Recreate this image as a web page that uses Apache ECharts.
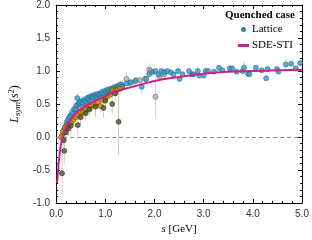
<!DOCTYPE html>
<html><head><meta charset="utf-8">
<script src="https://cdn.jsdelivr.net/npm/echarts@6/dist/echarts.min.js"></script>
<style>html,body{margin:0;padding:0;background:#fff}#c{width:312px;height:240px}</style>
</head><body><div id="c"></div>
<script>
// SDE-STI curve
const curveS = [0.02,0.04,0.06,0.08,0.10,0.12,0.15,0.2,0.25,0.3,0.4,0.5,0.6,0.8,1.0,1.2,1.4,1.7,2.0,2.5,3.0,3.5,4.0,4.5,5.0];
const curveV = [-0.70,-0.50,-0.33,-0.21,-0.11,-0.03,0.05,0.14,0.21,0.27,0.36,0.42,0.47,0.55,0.62,0.68,0.73,0.79,0.85,0.91,0.96,0.99,1.00,1.01,1.02];

// Lattice (blue)
const blueS = [0.15,0.18,0.21,0.24,0.27,0.30,0.33,0.36,0.39,0.42,0.43,0.45,0.48,0.51,0.54,0.57,0.60,0.63,0.66,0.69,0.72,0.75,0.78,0.81,0.84,0.87,0.90,0.93,0.96,0.99,1.02,1.05,1.08,1.11,1.14,1.17,1.20,1.23,1.26,1.29,1.32,1.34,1.43,1.52,1.62,1.74,1.83,1.89,1.96,2.02,2.08,2.14,2.20,2.26,2.33,2.39,2.48,2.51,2.57,2.70,2.76,2.79,2.88,2.91,3.00,3.04,3.09,3.21,3.31,3.38,3.53,3.58,3.67,3.79,3.82,3.90,3.93,4.06,4.18,4.27,4.30,4.49,4.52,4.67,4.78,4.87,4.96];
const blueV = [0.10,0.15,0.22,0.26,0.30,0.33,0.36,0.42,0.43,0.48,0.59,0.50,0.52,0.54,0.52,0.56,0.54,0.59,0.57,0.61,0.62,0.60,0.64,0.62,0.65,0.64,0.66,0.68,0.66,0.70,0.68,0.72,0.70,0.73,0.72,0.75,0.74,0.77,0.76,0.78,0.80,0.76,0.81,0.83,0.86,0.76,0.88,0.95,0.98,1.00,0.95,1.00,0.98,1.00,0.98,0.95,1.00,0.88,0.95,1.00,0.95,0.95,1.00,0.93,0.93,1.00,1.00,0.99,1.05,1.01,1.04,1.04,0.99,1.00,1.05,0.96,0.95,1.05,1.01,0.89,1.03,1.03,0.99,1.10,1.11,1.04,1.12];
const blueE = [0.08,0.08,0.1,0.1,0.12,0.1,0.1,0.15,0.1,0.12,0.08,0.1,0.08,0.08,0.1,0.06,0.08,0.06,0.06,0.05,0.05,0.06,0.05,0.05,0.05,0.05,0.05,0.05,0.04,0.05,0.04,0.05,0.04,0.04,0.04,0.04,0.04,0.04,0.04,0.04,0.04,0.05,0.04,0.04,0.04,0.1,0.04,0.04,0.03,0.03,0.03,0.03,0.03,0.03,0.03,0.03,0.03,0.04,0.03,0.03,0.03,0.03,0.08,0.03,0.03,0.03,0.03,0.03,0.04,0.03,0.03,0.03,0.03,0.03,0.1,0.03,0.03,0.04,0.03,0.04,0.03,0.03,0.03,0.08,0.03,0.03,0.05];

// gray
const grayS = [0.12,0.15,0.20,0.25,0.30,0.35,0.40,0.45,0.50,0.55,0.60,0.65,0.70,0.75,0.80,0.85,0.90,0.95,1.00,1.05,1.10,1.15,1.20,1.25,1.30,1.35,1.43,1.50,1.60,1.70,1.80,1.89,1.93,2.02,2.10,2.20];
const grayV = [0.02,0.06,0.12,0.20,0.26,0.30,0.35,0.40,0.43,0.45,0.50,0.52,0.55,0.57,0.58,0.60,0.62,0.63,0.65,0.67,0.70,0.71,0.72,0.75,0.76,0.78,0.88,0.82,0.84,0.86,0.88,1.02,1.00,0.61,0.92,0.95];
const grayE = [0.08,0.1,0.1,0.12,0.15,0.12,0.1,0.1,0.15,0.1,0.1,0.12,0.1,0.1,0.1,0.1,0.1,0.08,0.08,0.08,0.08,0.08,0.08,0.1,0.08,0.08,0.1,0.06,0.06,0.06,0.06,0.1,0.06,0.3,0.05,0.05];

// orange
const orangeS = [0.10,0.14,0.18,0.22,0.26,0.30,0.35,0.40,0.45,0.50,0.55,0.60,0.65,0.70,0.75,0.80,0.85,0.90,0.95,1.00,1.05,1.10,1.15,1.20,1.25,1.30];
const orangeV = [0.00,0.08,0.14,0.17,0.20,0.22,0.26,0.30,0.33,0.37,0.38,0.42,0.43,0.47,0.49,0.50,0.52,0.47,0.56,0.58,0.62,0.64,0.71,0.70,0.72,0.73];
const orangeE = [0.1,0.08,0.08,0.08,0.1,0.08,0.08,0.08,0.08,0.1,0.08,0.08,0.08,0.08,0.08,0.1,0.08,0.1,0.08,0.08,0.08,0.08,0.1,0.08,0.08,0.1];

// olive
const oliveS = [0.12,0.155,0.165,0.20,0.25,0.30,0.44,0.50,0.60,0.68,0.80,0.96,1.00,1.14,1.20,1.27];
const oliveV = [-0.55,-0.05,-0.21,0.07,0.13,0.17,0.18,0.30,0.36,0.42,0.46,0.44,0.55,0.50,0.66,0.23];
const oliveE = [0.33,0.12,0.2,0.1,0.12,0.15,0.15,0.12,0.12,0.12,0.15,0.15,0.12,0.15,0.12,0.5];

const xTicks = [0,1,2,3,4,5];
const yTicks = [-1,-0.5,0,0.5,1,1.5,2];

function pts(s,v){return s.map((x,i)=>[x,v[i]]);}
function bars(s,v,e){return s.map((x,i)=>[x,v[i]-e[i],v[i]+e[i]]);}
function errSeries(data,color){
  return {type:'custom',silent:true,z:1,data:data,
    renderItem:function(p,api){
      const a=api.coord([api.value(0),api.value(1)]);
      const b=api.coord([api.value(0),api.value(2)]);
      return {type:'line',shape:{x1:a[0],y1:a[1],x2:b[0],y2:b[1]},style:{stroke:color,lineWidth:1}};
    }};
}
function ptSeries(name,data,fill,stroke,z){
  return {type:'scatter',name:name,data:data,symbol:'circle',symbolSize:5,z:z,
    itemStyle:{color:fill,borderColor:stroke,borderWidth:0.7}};
}
const serif='"Liberation Serif","DejaVu Serif",serif';
const sans='"Liberation Sans","DejaVu Sans",sans-serif';
const chart=echarts.init(document.getElementById('c'),null,{renderer:'canvas'});
function axisCommon(){return {axisLine:{show:true,onZero:false,lineStyle:{color:'#000',width:1}},
  axisTick:{show:true,inside:true,length:4,lineStyle:{color:'#000'}},
  minorTick:{show:true,splitNumber:5,length:2,lineStyle:{color:'#000'}},splitLine:{show:false}};}
chart.setOption({
  animation:false,
  grid:{left:36,right:7,top:4,bottom:29,show:false},
  title:{text:'Quenched case',right:12,top:5,textStyle:{fontFamily:serif,fontWeight:'bold',fontSize:11,color:'#000'}},
  legend:{orient:'vertical',left:233,top:19,itemGap:5,itemWidth:11,itemHeight:3,
    textStyle:{fontFamily:serif,fontSize:11,color:'#000',padding:[0,0,0,-2]},
    data:[{name:'Lattice',icon:'circle',itemStyle:{color:'#3b9ccc',borderColor:'#1f5f80'}},{name:'SDE-STI',icon:'rect'}]},
  xAxis:[
    Object.assign({type:'value',min:0,max:5,interval:1,position:'bottom',
      axisLabel:{formatter:v=>v.toFixed(1),fontFamily:sans,fontSize:10,color:'#333',margin:6},
      name:'{i|s} [GeV]',nameLocation:'middle',nameGap:21,
      nameTextStyle:{fontFamily:serif,fontSize:11,color:'#000',rich:{i:{fontFamily:serif,fontStyle:'italic',fontSize:11}}}},axisCommon()),
    Object.assign({type:'value',min:0,max:5,interval:1,position:'top',axisLabel:{show:false}},axisCommon())
  ],
  yAxis:[
    Object.assign({type:'value',min:-1,max:2,interval:0.5,position:'left',
      axisLabel:{formatter:v=>v.toFixed(1),fontFamily:sans,fontSize:10,color:'#333',margin:6},
      name:'{i|L}{sub|sym}{n|(}{i|s}{sup|2}{n|)}',nameLocation:'middle',nameGap:25,nameRotate:90,
      nameTextStyle:{fontFamily:serif,fontSize:12,color:'#000',
        rich:{i:{fontFamily:serif,fontStyle:'italic',fontSize:12},n:{fontFamily:serif,fontSize:12},
          sub:{fontFamily:serif,fontStyle:'italic',fontSize:9,verticalAlign:'bottom',padding:[5,0,0,0]},
          sup:{fontFamily:serif,fontSize:8,verticalAlign:'top',padding:[0,0,5,0]}}}},axisCommon()),
    Object.assign({type:'value',min:-1,max:2,interval:0.5,position:'right',axisLabel:{show:false}},axisCommon())
  ],
  series:[
    errSeries(bars(oliveS,oliveV,oliveE),'#cfcfb4'),
    errSeries(bars(orangeS,orangeV,orangeE),'#ead3a8'),
    errSeries(bars(grayS,grayV,grayE),'#d6d6d6'),
    errSeries(bars(blueS,blueV,blueE),'#a9d6ef'),
    ptSeries('gray',pts(grayS,grayV),'#b3b3b3','#555555',3),
    ptSeries('Lattice',pts(blueS,blueV),'#3b9ccc','#1f5f80',4),
    ptSeries('orange',pts(orangeS,orangeV),'#d98c00','#6a4a00',5),
    ptSeries('olive',pts(oliveS,oliveV),'#4a5a28','#283014',6),
    {type:'line',name:'SDE-STI',data:pts(curveS,curveV),smooth:true,showSymbol:false,symbol:'none',z:8,
      lineStyle:{color:'#cc1f8c',width:2},itemStyle:{color:'#cc1f8c'},
      markLine:{silent:true,symbol:'none',label:{show:false},lineStyle:{color:'#888',type:[4,3],width:1},data:[{yAxis:0}]}}
  ]
});
</script></body></html>
